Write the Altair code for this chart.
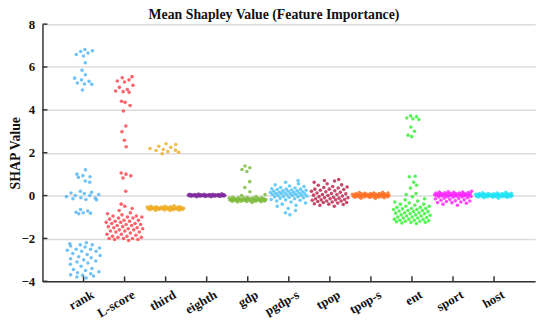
import json
import altair as alt
import pandas as pd

categories = ["rank", "L-score", "third", "eighth", "gdp", "pgdp-s",
              "tpop", "tpop-s", "ent", "sport", "host"]
colors = ["#4db3f5", "#ff3d45", "#efaa1e", "#7e2a9c", "#78b833", "#45bff5",
          "#b81c45", "#ff6a1c", "#2ff02f", "#ff1aff", "#16e3f5"]

rank_vals = [6.82, 6.76, 6.72, 6.65, 6.58, 6.51, 6.2, 5.85, 5.64, 5.48, 5.4, 5.33, 5.25, 5.21, 5.19, 4.93,
             1.2, 1.0, 0.93, 0.88, 0.85, 0.62, 0.68, 0.2, 0.15, 0.12, 0.1, 0.05, 0.0, -0.05, -0.12, -0.15,
             -0.18, -0.2, -0.1, 0.0, -0.65, -0.72, -0.78, -0.8, -0.85, -0.82,
             -2.2, -2.25, -2.3, -2.3, -2.35, -2.4, -2.45, -2.5, -2.5, -2.55, -2.6, -2.6, -2.7, -2.75, -2.8,
             -2.85, -2.9, -3.0, -3.05, -3.1, -3.2, -3.3, -3.4, -3.45, -3.5, -3.55, -3.6, -3.65, -3.7, -3.72,
             -3.75, -3.8, -3.85, -2.95, -3.15]
lscore_vals = [5.55, 5.5, 5.4, 5.35, 5.3, 5.15, 5.05, 4.95, 4.88, 4.85, 4.82, 4.4, 4.35, 4.2, 3.95, 3.25,
               2.98, 2.58, 2.28, 1.05, 1.0, 0.92, 0.82, 0.2,
               -0.4, -0.5, -0.6, -0.7, -0.8, -0.85, -0.9, -0.95, -1.0, -1.0, -1.05, -1.1, -1.15, -1.2, -1.2,
               -1.25, -1.3, -1.3, -1.35, -1.4, -1.4, -1.45, -1.5, -1.5, -1.55, -1.6, -1.6, -1.65, -1.7, -1.7,
               -1.75, -1.8, -1.8, -1.85, -1.9, -1.9, -1.95, -1.95, -2.0, -2.0, -2.0, -2.05, -2.05, -2.1,
               -1.25, -1.45, -1.55, -1.65, -1.35, -1.15, -1.05, -0.95]
third_vals = [2.42, 2.38, 2.3, 2.25, 2.2, 2.15, 2.1, 2.05, 2.02, 1.95, 2.12,
              -0.48, -0.5, -0.52, -0.55, -0.58, -0.6, -0.62, -0.65, -0.68, -0.7, -0.5, -0.53, -0.56, -0.59,
              -0.61, -0.63, -0.66, -0.57, -0.54, -0.6, -0.64, -0.67, -0.51, -0.55, -0.58, -0.62, -0.65, -0.69,
              -0.52, -0.57, -0.6, -0.63, -0.59, -0.56, -0.61, -0.54, -0.66, -0.58, -0.62, -0.6]
eighth_vals = [0.0, 0.02, -0.02, 0.04, -0.04, 0.01, -0.01, 0.03, -0.03, 0.05, 0.06, -0.05, 0.0, 0.02, -0.02,
               0.07, 0.01, -0.01, 0.03, -0.03, 0.04, 0.0, 0.02, -0.02, 0.05, -0.04, 0.01, 0.03, -0.01, 0.06,
               0.0, 0.02, -0.03, 0.04, -0.02, 0.01, 0.08, -0.01, 0.03, 0.0, 0.05, -0.05, 0.02, 0.04, -0.02,
               0.01, 0.06, 0.03, -0.01, 0.0]
gdp_vals = [1.38, 1.3, 1.22, 1.12, 0.65, 0.38, 0.18, 0.05, 0.0,
            -0.05, -0.08, -0.1, -0.12, -0.15, -0.18, -0.2, -0.22, -0.25, -0.28, -0.3, -0.32, -0.1, -0.14,
            -0.17, -0.2, -0.23, -0.26, -0.12, -0.16, -0.19, -0.21, -0.24, -0.27, -0.11, -0.15, -0.18, -0.22,
            -0.25, -0.29, -0.13, -0.17, -0.2, -0.23, -0.09, -0.19, -0.21, -0.26, -0.14, -0.18]
pgdps_vals = [0.7, 0.62, 0.55, 0.5, 0.45, 0.42, 0.38, 0.35, 0.32, 0.3, 0.28, 0.26, 0.25, 0.22, 0.2, 0.2,
              0.18, 0.15, 0.14, 0.12, 0.1, 0.1, 0.08, 0.06, 0.05, 0.04, 0.02, 0.0, 0.0, -0.02, -0.04, -0.06,
              -0.08, -0.1, -0.12, -0.15, -0.18, -0.2, -0.22, -0.25, -0.3, -0.35, -0.4, -0.45, -0.5, -0.6,
              -0.7, -0.8, -0.9, 0.3, 0.15, 0.08, 0.22, -0.05, 0.12]
tpop_vals = [0.75, 0.7, 0.68, 0.62, 0.55, 0.5, 0.48, 0.42, 0.38, 0.35, 0.3, 0.28, 0.25, 0.2, 0.18, 0.15,
             0.1, 0.08, 0.05, 0.02, 0.0, -0.02, -0.05, -0.08, -0.1, -0.12, -0.15, -0.18, -0.2, -0.22, -0.25,
             -0.28, -0.3, -0.32, -0.35, -0.38, -0.4, -0.42, -0.45, -0.5, 0.12, -0.15, -0.25, 0.05, 0.3,
             -0.32, -0.1, 0.22, -0.2, 0.4]
tpops_vals = [0.15, 0.14, 0.12, 0.12, 0.1, 0.1, 0.08, 0.08, 0.06, 0.06, 0.05, 0.04, 0.04, 0.02, 0.02, 0.0,
              0.0, 0.0, -0.02, -0.02, -0.03, -0.04, -0.05, -0.05, -0.06, -0.07, -0.08, -0.1, -0.12, -0.14,
              0.03, 0.01, -0.01, 0.07, -0.03, 0.09, -0.06, 0.05, -0.09, 0.11, 0.0, -0.04, 0.02, -0.08, 0.06]
ent_vals = [3.72, 3.68, 3.62, 3.58, 3.55, 3.2, 3.0, 2.82, 2.75,
            0.9, 0.88, 0.62, 0.48, 0.35, 0.1, 0.05, -0.05,
            -0.15, -0.2, -0.25, -0.3, -0.35, -0.4, -0.45, -0.5, -0.55, -0.6, -0.62, -0.65, -0.7, -0.72,
            -0.75, -0.8, -0.82, -0.85, -0.9, -0.92, -0.95, -1.0, -1.02, -1.05, -1.1, -1.12, -1.15, -1.18,
            -1.2, -1.22, -1.25, -1.28, -1.3, -0.55, -0.65, -0.75, -0.85, -0.95, -1.05, -1.15, -1.2, -0.6,
            -0.7, -0.8, -0.9, -1.0, -1.1, -0.5, -0.4, -1.25]
sport_vals = [0.2, 0.18, 0.16, 0.15, 0.14, 0.12, 0.12, 0.1, 0.1, 0.08, 0.08, 0.06, 0.06, 0.05, 0.04, 0.04,
              0.02, 0.02, 0.0, 0.0, 0.0, -0.02, -0.02, -0.04, -0.05, -0.06, -0.08, -0.1, -0.12, -0.15,
              -0.18, -0.2, -0.22, -0.25, -0.28, -0.3, -0.33, -0.36, -0.4, -0.45, 0.03, 0.07, 0.11, 0.13,
              0.01, -0.01, -0.03, 0.09, -0.07, 0.05, -0.14, 0.17, 0.0, -0.24, -0.32]
host_vals = [0.15, 0.12, 0.1, 0.1, 0.08, 0.07, 0.06, 0.05, 0.04, 0.03, 0.02, 0.02, 0.01, 0.0, 0.0, 0.0,
             -0.01, -0.02, -0.03, -0.04, -0.05, -0.06, -0.07, -0.08, -0.1, -0.12, 0.09, 0.03, -0.02, 0.05,
             -0.05, 0.01, -0.03, 0.06, 0.04, -0.01, 0.02, -0.04, 0.0, 0.08, -0.06, 0.11, -0.09, 0.07, 0.13]

series = [rank_vals, lscore_vals, third_vals, eighth_vals, gdp_vals, pgdps_vals,
          tpop_vals, tpops_vals, ent_vals, sport_vals, host_vals]

y_tick_values = [-4, -2, 0, 2, 4, 6, 8]

# deterministic strip layout: spread width follows local point density
MAX_HALF = 0.46
BAND = 0.28
K = 12.0
GOLDEN = 0.6180339887
rows = []
for ci, (cat, vals) in enumerate(zip(categories, series)):
    order = sorted(range(len(vals)), key=lambda i: vals[i])
    for rank_pos, i in enumerate(order):
        v = vals[i]
        cnt = sum(1 for w in vals if abs(w - v) <= BAND)
        frac_w = max(0.12, min(1.0, cnt / K))
        u = ((rank_pos + 1) * GOLDEN) % 1.0 - 0.5
        rows.append({"cat": cat, "value": v, "xpos": ci + 1 + 2 * u * MAX_HALF * frac_w})
df = pd.DataFrame(rows)

W, H = 500, 261
FONT = "Liberation Serif"
label_expr = json.dumps(categories) + "[datum.value - 1]"

points = alt.Chart(df).mark_circle(size=13, opacity=0.8).encode(
    x=alt.X("xpos:Q", scale=alt.Scale(domain=[0, 12], nice=False),
            axis=alt.Axis(values=list(range(1, 12)), labelExpr=label_expr, title=None,
                          ticks=False, grid=False, labelAngle=-30, labelAlign="right",
                          labelBaseline="top", labelPadding=7, labelOffset=6,
                          labelOverlap=False, labelBound=False, labelFlush=False,
                          labelFont=FONT, labelFontSize=13, labelFontWeight="bold",
                          labelColor="#111", domainColor="#333", domainWidth=1.5)),
    y=alt.Y("value:Q", scale=alt.Scale(domain=[-4, 8], nice=False, zero=False),
            axis=alt.Axis(values=y_tick_values, title="SHAP Value", ticks=False, grid=True,
                          gridColor="#dcdcdc", gridWidth=1.5, labelPadding=8,
                          labelOverlap=False, labelFlush=False,
                          labelFont=FONT, labelFontSize=13, labelFontWeight="bold",
                          labelColor="#111", titleFont=FONT, titleFontSize=14,
                          titleFontWeight="bold", titleColor="#111",
                          titleX=-27, titleY=H / 2, titleAngle=-90, titleAlign="center",
                          titleBaseline="middle",
                          domainColor="#333", domainWidth=1.5)),
    color=alt.Color("cat:N", scale=alt.Scale(domain=categories, range=colors), legend=None),
)

ytick_df = pd.DataFrame({"v": y_tick_values})
yticks = alt.Chart(ytick_df).mark_rule(color="#333", strokeWidth=1.5).encode(
    y=alt.Y("v:Q"), x=alt.value(0), x2=alt.value(5))

xtick_df = pd.DataFrame({"p": list(range(1, 12))})
xticks = alt.Chart(xtick_df).mark_rule(color="#333", strokeWidth=1.5).encode(
    x=alt.X("p:Q"), y=alt.value(H), y2=alt.value(H - 5))

chart = alt.layer(points, yticks, xticks).properties(
    width=W, height=H,
    title=alt.TitleParams("Mean Shapley Value (Feature Importance)", font=FONT, fontSize=14,
                          fontWeight="bold", color="#111", anchor="middle", dx=-15, offset=-4),
    autosize=alt.AutoSizeParams(type="none"),
    padding={"left": 35, "top": 14, "right": 7, "bottom": 44},
).configure_view(stroke=None)

chart.save("out.html", embed_options={"renderer": "svg", "actions": False})
